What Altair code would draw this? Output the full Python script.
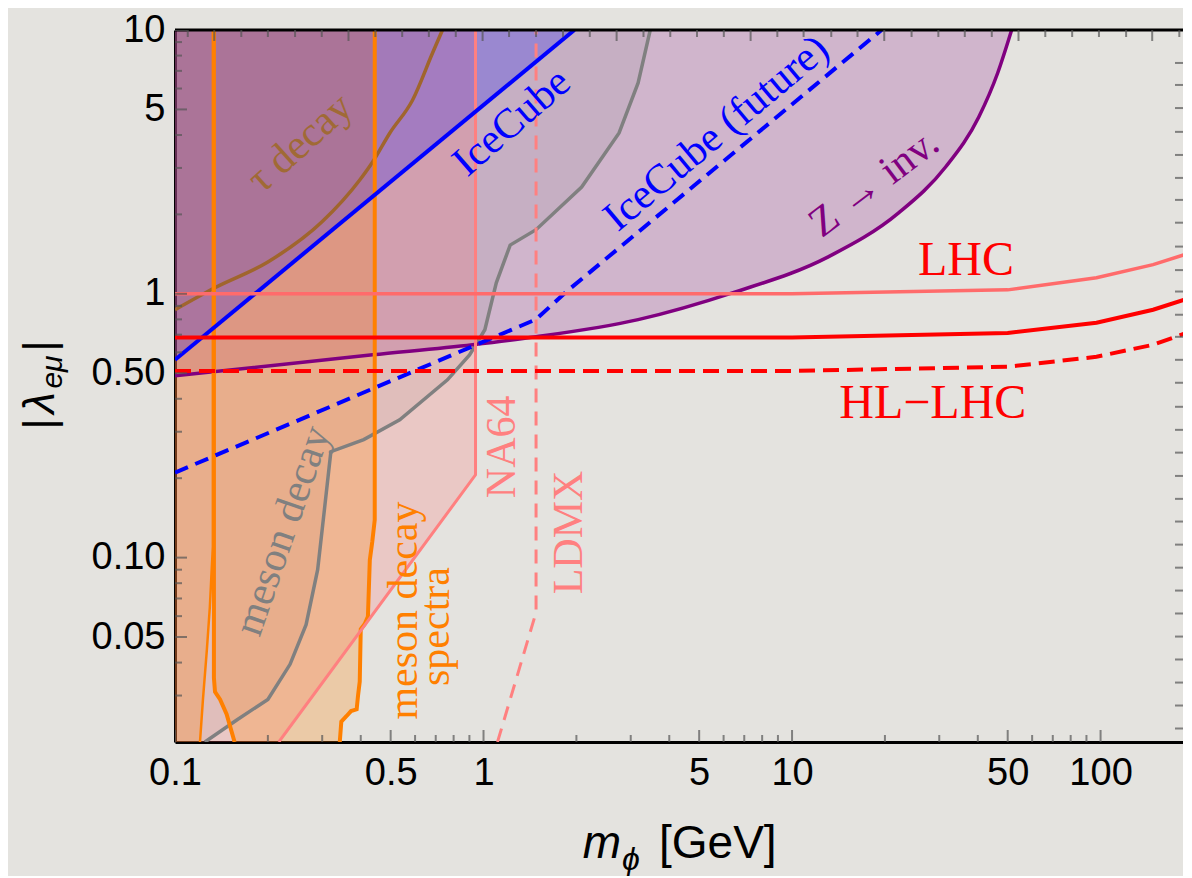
import altair as alt
import pandas as pd

# ---------------- data ----------------
# Z -> invisible (purple boundary)
zinv_m = [0.1, 0.437, 0.921, 1.48, 3.17, 6.44, 13.1, 22.2, 31.5, 40.3, 46.4, 51.5]
zinv_l = [0.489, 0.587, 0.641, 0.687, 0.798, 1.01, 1.38, 2.03, 3.03, 4.68, 6.87, 10.0]

# meson decay (gray boundary)
meson_m = [0.125, 0.159, 0.2, 0.236, 0.266, 0.29, 0.305, 0.32, 0.409, 0.535, 0.764,
           0.901, 1.01, 1.10, 1.22, 1.48, 2.08, 2.75, 3.17, 3.47]
meson_l = [0.02, 0.0243, 0.029, 0.0394, 0.0557, 0.090, 0.152, 0.252, 0.280, 0.333, 0.472,
           0.587, 0.731, 1.10, 1.53, 1.75, 2.54, 4.07, 6.3, 10.0]

# tau decay (brown boundary)
tau_m = [0.1, 0.1346, 0.2, 0.299, 0.397, 0.437, 0.497, 0.589, 0.684, 0.736]
tau_l = [0.87, 1.054, 1.32, 1.87, 2.70, 3.16, 4.07, 5.43, 8.2, 10.0]

# IceCube (solid blue) and IceCube future (dashed blue)
ic_m = [0.1, 1.97]
ic_l = [0.562, 10.0]
icf_m = [0.1, 1.48, 1.84, 19.5]
icf_l = [0.21, 0.80, 1.01, 10.0]

# LHC lines
lhc_m = [0.1, 10, 50, 97, 148, 195]
lhc_l = [1.0, 1.0, 1.035, 1.15, 1.29, 1.43]
red_m = [0.1, 10, 50, 97, 148, 195]
red_l = [0.683, 0.683, 0.711, 0.777, 0.870, 0.966]
hl_m = [0.1, 10, 50, 97, 148, 195]
hl_l = [0.510, 0.510, 0.529, 0.577, 0.641, 0.718]

# NA64 and LDMX
na64_m = [0.217, 0.942, 0.942]
na64_l = [0.02, 0.206, 10.0]
ldmx_m = [1.11, 1.48, 1.48]
ldmx_l = [0.02, 0.062, 10.0]

# meson decay spectra (orange contours)
ol_m = [0.1205, 0.1232, 0.1269, 0.1297, 0.1315, 0.1327, 0.1327]
ol_l = [0.02, 0.029, 0.045, 0.065, 0.09, 0.11, 10.0]
orl_m = [0.156, 0.147, 0.140, 0.1348, 0.1337, 0.1337]
orl_l = [0.02, 0.0255, 0.029, 0.031, 0.035, 10.0]
orr_m = [0.342, 0.346, 0.360, 0.372, 0.388, 0.392, 0.397, 0.400, 0.412, 0.422, 0.428, 0.436, 0.444, 0.444]
orr_l = [0.02, 0.0239, 0.0251, 0.0262, 0.0266, 0.030, 0.0339, 0.0535, 0.056, 0.0598, 0.098, 0.115, 0.139, 10.0]

# labels
lab_text = ["τ decay", "IceCube", "IceCube (future)", "Z → inv.", "LHC", "HL−LHC",
            "meson decay", "meson decay", "spectra", "NA64", "LDMX"]
lab_m = [0.2538, 1.232, 5.68, 18.4, 36.6, 28.6, 0.2236, 0.551, 0.6995, 1.152, 1.897]
lab_l = [3.73, 4.48, 4.07, 2.63, 1.33, 0.383, 0.1265, 0.063, 0.0548, 0.263, 0.1245]
lab_ang = [318, 319, 320, 323, 0, 0, 289, 270, 270, 270, 270]
lab_size = [42, 42, 42, 42, 48, 48, 42, 42, 42, 42, 42]
lab_col = ["#A06A35", "#0000FF", "#0000FF", "#800080", "#FF0000", "#FF0000",
           "#808080", "#FF8000", "#FF8000", "#FF8080", "#FF8080"]

# axis ticks
x_major = [0.1, 0.5, 1, 5, 10, 50, 100]
x_minor = [0.2, 0.3, 0.4, 0.6, 0.7, 0.8, 0.9, 2, 3, 4, 6, 7, 8, 9,
           20, 30, 40, 60, 70, 80, 90]
y_major = [0.05, 0.1, 0.5, 1, 5, 10]
y_minor = [0.03, 0.04, 0.06, 0.07, 0.08, 0.09, 0.2, 0.3, 0.4, 0.6, 0.7, 0.8, 0.9,
           2, 3, 4, 6, 7, 8, 9]
top_minor = [0.110, 0.164, 0.200, 0.245, 0.299, 0.446, 0.545, 0.665, 0.813,
             1.21, 1.48, 1.81, 2.21, 3.30, 4.03, 4.92, 6.01, 8.96, 10.9, 13.4, 16.3,
             24.4, 29.8, 36.3, 44.4, 66.2, 80.9, 98.8, 121, 180]
top_major = [0.134, 0.365, 0.993, 2.70, 7.34, 19.9, 54.2, 147]
right_ticks = [7.50, 6.19, 5.06, 4.11, 3.36, 2.75, 2.27, 1.86, 1.51, 1.23, 1.02, 0.833,
               0.687, 0.562, 0.460, 0.373, 0.305, 0.250, 0.204, 0.167, 0.137, 0.112,
               0.0916, 0.075, 0.0614, 0.0502, 0.0411, 0.0336, 0.0275, 0.0225]

X_MIN, X_MAX = 0.1, 185.0
Y_MIN, Y_MAX = 0.02, 10.0

# ---------------- chart ----------------
xscale = alt.Scale(type="log", domain=[X_MIN, X_MAX], nice=False)
yscale = alt.Scale(type="log", domain=[Y_MIN, Y_MAX], nice=False)

xaxis = alt.Axis(values=x_major,
                 labelExpr="datum.value < 1 ? format(datum.value, '.1f') : format(datum.value, 'd')",
                 ticks=False, tickSize=0, grid=False, domainColor="black", domainWidth=3,
                 labelFont="Liberation Sans", labelFontSize=38, labelColor="black",
                 labelPadding=12, labelFlush=False, labelOverlap=False)
yaxis = alt.Axis(values=y_major,
                 labelExpr="datum.value >= 1 ? format(datum.value, 'd') : format(datum.value, '.2f')",
                 ticks=False, tickSize=0, grid=False, domainColor="black", domainWidth=3,
                 labelFont="Liberation Sans", labelFontSize=38, labelColor="black",
                 labelPadding=10, labelFlush=False, labelOverlap=False)

X = alt.X("m:Q", scale=xscale, axis=xaxis, title=None)
Y = alt.Y("lam:Q", scale=yscale, axis=yaxis, title=None)


def area(ms, ls, color, opacity, interp="linear"):
    df = pd.DataFrame({"m": ms, "lam": ls, "top": [Y_MAX] * len(ms)})
    return alt.Chart(df).mark_area(color=color, fillOpacity=opacity, clip=True,
                                   interpolate=interp).encode(x=X, y=Y, y2="top")


def line(ms, ls, color, width, dash=None, interp="linear"):
    df = pd.DataFrame({"m": ms, "lam": ls, "i": list(range(len(ms)))})
    kw = dict(color=color, strokeWidth=width, clip=True, interpolate=interp)
    if dash is not None:
        kw["strokeDash"] = dash
    return alt.Chart(df).mark_line(**kw).encode(x=X, y=Y, order="i:Q")


def ticks(ms, ls, orient, size, color="#555555"):
    df = pd.DataFrame({"m": ms, "lam": ls})
    return alt.Chart(df).mark_tick(orient=orient, size=size, thickness=2, color=color,
                                   clip=True).encode(x=X, y=Y)


fills = [
    area(zinv_m, zinv_l, "#800080", 0.2, "monotone"),
    area([0.1] + meson_m, [0.02] + meson_l, "#808080", 0.12),
    area([0.1] + na64_m[:-1], [0.02] + na64_l[:-1], "#FF6B6B", 0.22),
    area([0.1] + ol_m[:-1], [0.02] + ol_l[:-1], "#FF8000", 0.25),
    area(orl_m[:-1][::-1] + orr_m[:-1], orl_l[:-1][::-1] + orr_l[:-1], "#FF8000", 0.25),
    area(ic_m, ic_l, "#0000FF", 0.22),
    area(tau_m, tau_l, "#A06A35", 0.05, "monotone"),
]

lines = [
    line(tau_m, tau_l, "#A0652D", 3.5, interp="monotone"),
    line(meson_m, meson_l, "#808080", 3.5),
    line(zinv_m, zinv_l, "#800080", 3.5, interp="monotone"),
    line(ol_m, ol_l, "#FF8000", 2.5),
    line(orl_m, orl_l, "#FF8000", 4),
    line(orr_m, orr_l, "#FF8000", 4),
    line(na64_m, na64_l, "#FF8080", 3),
    line(ldmx_m, ldmx_l, "#FF8080", 3, [14, 9]),
    line(ic_m, ic_l, "#0000FF", 4),
    line(icf_m, icf_l, "#0000FF", 4, [14, 8]),
    line(lhc_m, lhc_l, "#FF6B6B", 3.5),
    line(red_m, red_l, "#FF0000", 4),
    line(hl_m, hl_l, "#FF0000", 4, [16, 8]),
]

frame_top = alt.Chart(pd.DataFrame({"m": [X_MIN], "m2": [X_MAX], "lam": [Y_MAX]})).mark_rule(
    color="black", strokeWidth=3).encode(x=X, x2="m2", y=Y)

tick_layers = [
    ticks(x_major, [Y_MIN] * len(x_major), "vertical", 24),
    ticks(x_minor, [Y_MIN] * len(x_minor), "vertical", 14),
    ticks([X_MIN] * len(y_major), y_major, "horizontal", 24),
    ticks([X_MIN] * len(y_minor), y_minor, "horizontal", 14),
    ticks(top_major, [Y_MAX] * len(top_major), "vertical", 22),
    ticks(top_minor, [Y_MAX] * len(top_minor), "vertical", 14),
    ticks([X_MAX] * len(right_ticks), right_ticks, "horizontal", 16),
]

lab_df = pd.DataFrame({"m": lab_m, "lam": lab_l, "t": lab_text, "ang": lab_ang,
                       "col": lab_col, "fs": lab_size})
labels = alt.Chart(lab_df).mark_text(font="Liberation Serif", align="center",
                                     baseline="middle").encode(
    x=X, y=Y, text="t:N", angle=alt.Angle("ang:Q", scale=None),
    size=alt.Size("fs:Q", scale=None),
    color=alt.Color("col:N", scale=None))

one = pd.DataFrame({"k": [0]})


def title_piece(txt, px, py, size, style="normal", angle=0, align="center", baseline="alphabetic"):
    return alt.Chart(one).mark_text(text=txt, font="Liberation Sans", fontSize=size,
                                    fontStyle=style, angle=angle, align=align,
                                    baseline=baseline, color="black").encode(
        x=alt.value(px), y=alt.value(py))


titles = [
    title_piece("m", 427, 828, 46, "italic"),
    title_piece("ϕ", 456, 840, 32, "italic"),
    title_piece("[GeV]", 484, 828, 46, align="left"),
    title_piece("|", -134, 394, 44, angle=270, baseline="middle"),
    title_piece("λ", -134, 373, 44, "italic", angle=270, baseline="middle"),
    title_piece("eμ", -122, 342, 30, "italic", angle=270, baseline="middle"),
    title_piece("|", -134, 316, 44, angle=270, baseline="middle"),
]

chart = alt.layer(*fills, *lines, frame_top, *tick_layers, labels, *titles).properties(
    width=1008, height=712,
    padding={"left": 167, "top": 22, "right": 0, "bottom": 134},
    autosize=alt.AutoSizeParams(type="none"),
    background="#E4E3DF",
).configure_view(stroke=None)

chart.save("out.html", embed_options={"renderer": "svg", "actions": False})
